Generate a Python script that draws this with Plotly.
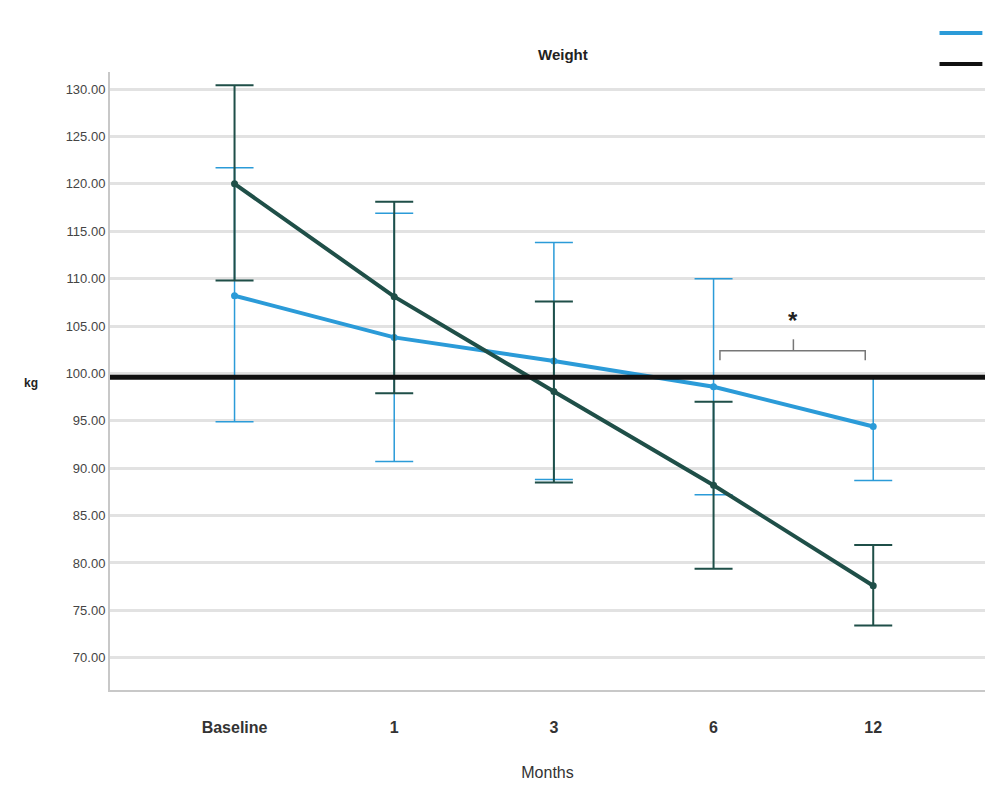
import plotly.graph_objects as go

categories = ["Baseline", "1", "3", "6", "12"]
x_pos = [0, 1, 2, 3, 4]

blue_mean = [108.2, 103.8, 101.3, 98.6, 94.4]
blue_upper = [121.7, 116.9, 113.8, 110.0, 99.7]
blue_lower = [94.9, 90.7, 88.8, 87.2, 88.7]

dark_mean = [120.0, 108.1, 98.1, 88.2, 77.6]
dark_upper = [130.4, 118.1, 107.6, 97.0, 81.9]
dark_lower = [109.8, 97.9, 88.5, 79.4, 73.4]

ref_value = 99.6
yticks = [70, 75, 80, 85, 90, 95, 100, 105, 110, 115, 120, 125, 130]

BLUE = "#2b9bd8"
DARK = "#1f4f48"

fig = go.Figure()

fig.add_trace(go.Scatter(
    x=x_pos, y=blue_mean, mode="lines+markers",
    line=dict(color=BLUE, width=4), marker=dict(color=BLUE, size=7),
    error_y=dict(type="data", symmetric=False,
                 array=[u - m for u, m in zip(blue_upper, blue_mean)],
                 arrayminus=[m - l for m, l in zip(blue_mean, blue_lower)],
                 color=BLUE, thickness=1.5, width=19),
    showlegend=False))

fig.add_trace(go.Scatter(
    x=x_pos, y=dark_mean, mode="lines+markers",
    line=dict(color=DARK, width=4), marker=dict(color=DARK, size=7),
    error_y=dict(type="data", symmetric=False,
                 array=[u - m for u, m in zip(dark_upper, dark_mean)],
                 arrayminus=[m - l for m, l in zip(dark_mean, dark_lower)],
                 color=DARK, thickness=2, width=19),
    showlegend=False))

fig.add_trace(go.Scatter(
    x=[-0.8, 4.75], y=[ref_value, ref_value], mode="lines",
    line=dict(color="#111111", width=5), showlegend=False, hoverinfo="skip"))

# significance bracket between month 6 and month 12
br_y = 102.4
fig.add_shape(type="path",
              path=f"M 3.04,{br_y-1.0} L 3.04,{br_y} L 3.95,{br_y} L 3.95,{br_y-1.0}",
              line=dict(color="#777777", width=1.5))
fig.add_shape(type="line", x0=3.5, x1=3.5, y0=br_y, y1=br_y + 1.2,
              line=dict(color="#777777", width=1.5))
fig.add_annotation(x=3.5, y=br_y + 3.2, text="<b>*</b>", showarrow=False,
                   font=dict(size=24, color="#222222", family="Liberation Sans"))

# legend swatches (no text)
fig.add_shape(type="line", xref="paper", yref="paper", x0=0.948, x1=0.997,
              y0=1.063, y1=1.063, line=dict(color=BLUE, width=4))
fig.add_shape(type="line", xref="paper", yref="paper", x0=0.948, x1=0.997,
              y0=1.013, y1=1.013, line=dict(color="#111111", width=4))

fig.add_annotation(xref="paper", yref="paper", x=0.518, y=1.046, text="<b>Weight</b>",
                   showarrow=False, font=dict(size=15, color="#222222", family="Liberation Sans"))
fig.add_annotation(xref="paper", yref="y", x=-0.09, y=99.0, text="<b>kg</b>", showarrow=False,
                   xanchor="center", font=dict(size=12, color="#222222", family="Liberation Sans"))

fig.update_layout(
    width=985, height=791,
    margin=dict(l=110, r=0, t=72, b=101),
    paper_bgcolor="white", plot_bgcolor="white",
    font=dict(family="Liberation Sans", color="#333333"),
    xaxis=dict(range=[-0.78, 4.7], tickmode="array", tickvals=x_pos,
               ticktext=[f"<b>{c}</b>" for c in categories],
               tickfont=dict(size=16, color="#333333"),
               ticklabelstandoff=22,
               showgrid=False, zeroline=False, showline=True,
               linecolor="#c8c8c8", linewidth=2, ticks="",
               title=dict(text="Months", font=dict(size=16, color="#333333"), standoff=32)),
    yaxis=dict(range=[66.6, 131.8], tickmode="array", tickvals=yticks,
               ticktext=[f"{v:.2f}" for v in yticks],
               tickfont=dict(size=13, color="#444444"),
               showgrid=True, gridcolor="#e2e2e2", gridwidth=3,
               zeroline=False, showline=True, linecolor="#c8c8c8", linewidth=2,
               ticks=""),
)

fig.write_html("out.html", config={"displayModeBar": False},
               post_script="document.body.style.margin='0';document.body.style.overflow='hidden';")
